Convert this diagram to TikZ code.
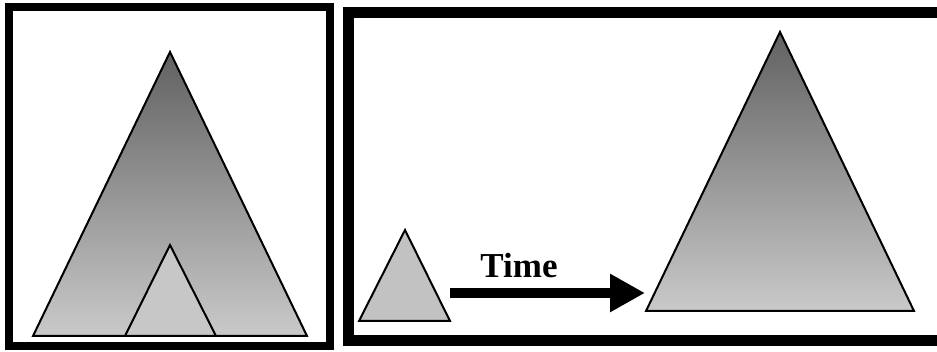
\documentclass[tikz,border=0pt]{standalone}
\usepackage{fontspec}
\setmainfont{Liberation Serif}
\usetikzlibrary{arrows.meta}
\tikzset{
  frame/.style={draw=black},
  tri/.style={draw=black, line width=2pt, line join=miter},
  bigtri/.style={tri, top color=black!62, bottom color=black!21},
  smalltri/.style={tri, fill=black!22},
  timearrow/.style={draw=black, line width=10pt, -{Triangle[length=35pt,width=36pt]}}
}
\begin{document}
\begin{tikzpicture}[x=1pt,y=-1pt]
\useasboundingbox (0,0) rectangle (937,352);
\clip (0,0) rectangle (937,352);
\fill[white] (0,0) rectangle (937,352);
% left panel
\draw[frame, line width=8pt] (9,7) rectangle (330,346);
\draw[bigtri] (170,52) -- (307,336) -- (33,336) -- cycle;
\draw[smalltri] (170,245) -- (216,336) -- (125,336) -- cycle;
% right panel
\draw[frame, line width=11pt] (348.5,12.5) rectangle (960,341);
\draw[smalltri, fill=black!24] (405,230) -- (450,321) -- (359,321) -- cycle;
\draw[bigtri] (780,32) -- (914,311) -- (646,311) -- cycle;
\coordinate (astart) at (450,293);
\coordinate (aend) at (645,293);
\draw[timearrow] (astart) -- (aend);
\node[font=\bfseries\fontsize{35}{40}\selectfont, inner sep=0pt, anchor=base] (time) at (519,278) {Time};
\end{tikzpicture}
\end{document}
